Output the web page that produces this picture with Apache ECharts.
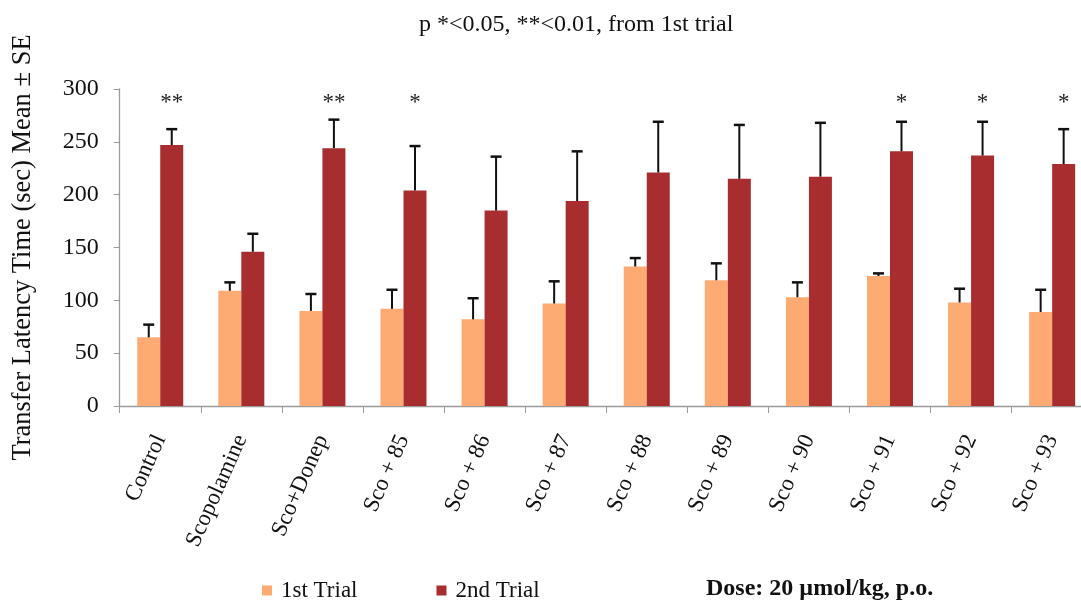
<!DOCTYPE html>
<html>
<head>
<meta charset="utf-8">
<script src="https://cdn.jsdelivr.net/npm/echarts@6/dist/echarts.min.js"></script>
<style>
  html, body { margin: 0; padding: 0; background: #fff; }
  #chart { width: 1081px; height: 600px; }
</style>
</head>
<body>
<div id="chart"></div>
<script>
// Treatment groups
const categories = ['Control', 'Scopolamine', 'Sco+Donep', 'Sco + 85', 'Sco + 86', 'Sco + 87',
  'Sco + 88', 'Sco + 89', 'Sco + 90', 'Sco + 91', 'Sco + 92', 'Sco + 93'];

// Transfer latency (sec), mean and standard error
const trial1Mean = [65, 109, 90, 92, 82, 97, 132, 119, 103, 123, 98, 89];
const trial1SE   = [12, 8, 16, 18, 20, 21, 8, 16, 14, 2.5, 13, 21];
const trial2Mean = [247, 146, 244, 204, 185, 194, 221, 215, 217, 241, 237, 229];
const trial2SE   = [15, 17, 27, 42, 51, 47, 48, 51, 51, 28, 32, 33];

// Significance vs. 1st trial
const significance = ['**', '', '**', '*', '', '', '', '', '', '*', '*', '*'];

const yTicks = [0, 50, 100, 150, 200, 250, 300];

const FONT = "'Liberation Serif', 'Times New Roman', serif";
const BAR_W = 23;
const COLOR_1 = '#FDAB72';
const COLOR_2 = '#A82D2F';
const STAR_ROW = 287;

function errorData(means, ses) {
  return means.map((m, i) => [i, m, ses[i]]);
}

function makeErrorRender(side) {
  return function (params, api) {
    const i = api.value(0);
    const base = api.coord([i, api.value(1)]);
    const top = api.coord([i, api.value(1) + api.value(2)]);
    const x = base[0] + side * BAR_W / 2;
    const cap = 5.5;
    return {
      type: 'group',
      children: [
        { type: 'line', shape: { x1: x, y1: base[1], x2: x, y2: top[1] },
          style: { stroke: '#111', lineWidth: 2 } },
        { type: 'line', shape: { x1: x - cap, y1: top[1], x2: x + cap, y2: top[1] },
          style: { stroke: '#111', lineWidth: 2.5 } }
      ]
    };
  };
}

const chart = echarts.init(document.getElementById('chart'), null, { renderer: 'canvas' });

chart.setOption({
  backgroundColor: '#fff',
  animation: false,
  textStyle: { fontFamily: FONT },
  title: {
    text: 'p *<0.05, **<0.01, from 1st trial',
    left: 419, top: 13, padding: 0,
    textStyle: { fontFamily: FONT, fontSize: 24, fontWeight: 'normal', color: '#111' }
  },
  legend: {
    data: ['1st Trial', '2nd Trial'],
    left: 262, top: 579, padding: 0,
    icon: 'rect', itemWidth: 10, itemHeight: 10, itemGap: 79,
    textStyle: { fontFamily: FONT, fontSize: 23, color: '#111', padding: [0, 0, 0, 4] }
  },
  graphic: [{
    type: 'text', left: 706, top: 577,
    style: { text: 'Dose: 20 µmol/kg, p.o.', font: 'bold 24px ' + FONT, fill: '#111' }
  }],
  grid: { left: 119.7, right: -11.7, top: 89, bottom: 194, containLabel: false, outerBoundsMode: 'none' },
  xAxis: {
    type: 'category',
    data: categories,
    axisLine: { lineStyle: { color: '#9a9a9a', width: 1.3 } },
    axisTick: { show: true, length: 7, interval: 0, lineStyle: { color: '#9a9a9a' } },
    axisLabel: { interval: 0, rotate: 66, margin: 30, fontFamily: FONT, fontSize: 23, color: '#111' }
  },
  yAxis: {
    type: 'value',
    min: yTicks[0], max: yTicks[yTicks.length - 1], interval: 50,
    name: 'Transfer Latency Time (sec) Mean ± SE',
    nameLocation: 'middle', nameGap: 83,
    nameTextStyle: { fontFamily: FONT, fontSize: 26.5, color: '#111' },
    axisLine: { show: true, lineStyle: { color: '#9a9a9a', width: 1.3 } },
    axisTick: { show: true, length: 6, lineStyle: { color: '#9a9a9a' } },
    axisLabel: { margin: 21, fontFamily: FONT, fontSize: 24, color: '#111' },
    splitLine: { show: false }
  },
  series: [
    { name: '1st Trial', type: 'bar', data: trial1Mean, barWidth: BAR_W, barGap: '0%',
      itemStyle: { color: COLOR_1 } },
    { name: '2nd Trial', type: 'bar', data: trial2Mean, barWidth: BAR_W, barGap: '0%',
      itemStyle: { color: COLOR_2 } },
    { name: 'err1', type: 'custom', data: errorData(trial1Mean, trial1SE),
      renderItem: makeErrorRender(-1), z: 5, silent: true, clip: false },
    { name: 'err2', type: 'custom', data: errorData(trial2Mean, trial2SE),
      renderItem: makeErrorRender(1), z: 5, silent: true, clip: false },
    { name: 'sig', type: 'custom', z: 6, silent: true, clip: false,
      data: significance.map((s, i) => [i, STAR_ROW]),
      renderItem: function (params, api) {
        const i = api.value(0);
        const txt = significance[i];
        if (!txt) return null;
        const p = api.coord([i, api.value(1)]);
        return {
          type: 'text', x: p[0] + BAR_W / 2, y: p[1],
          style: { text: txt, font: '23px ' + FONT, fill: '#222', align: 'center', verticalAlign: 'middle' }
        };
      } }
  ]
});
</script>
</body>
</html>
